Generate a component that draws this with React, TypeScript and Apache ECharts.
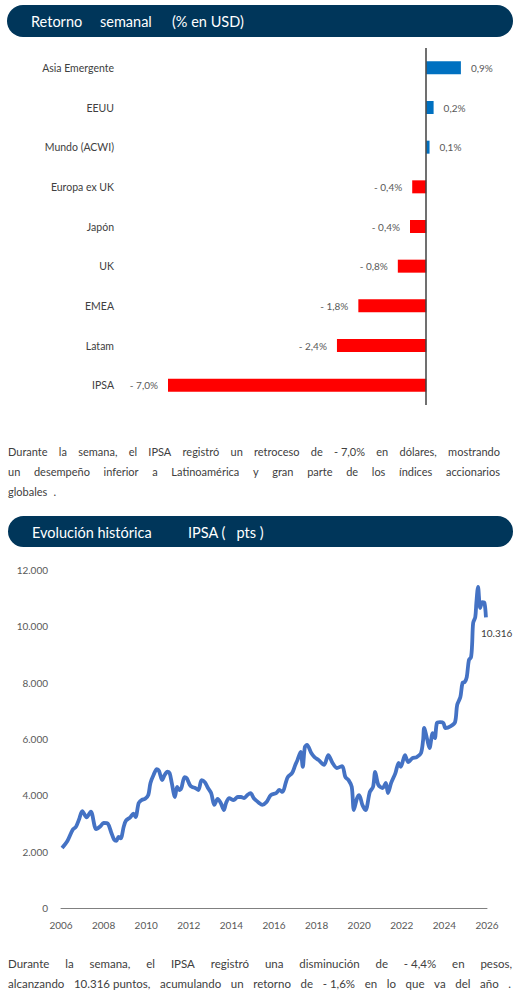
import React, { useEffect, useRef } from 'react';
import * as echarts from 'echarts';

const regions = ['Asia Emergente', 'EEUU', 'Mundo (ACWI)', 'Europa ex UK', 'Japón', 'UK', 'EMEA', 'Latam', 'IPSA'];
const weeklyReturn = [0.94, 0.2, 0.09, -0.38, -0.44, -0.77, -1.84, -2.42, -7.0];

const ipsaDates = [
  2006.05, 2006.3, 2006.55, 2006.7, 2006.85, 2007.0, 2007.2, 2007.4, 2007.65, 2007.85,
  2008.0, 2008.2, 2008.35, 2008.5, 2008.6, 2008.7, 2008.8, 2008.95, 2009.05, 2009.25,
  2009.4, 2009.5, 2009.65, 2009.8, 2009.95, 2010.1, 2010.2, 2010.35, 2010.5, 2010.6,
  2010.75, 2010.85, 2011.0, 2011.1, 2011.2, 2011.35, 2011.45, 2011.55, 2011.65, 2011.8,
  2011.9, 2012.05, 2012.15, 2012.3, 2012.45, 2012.6, 2012.75, 2012.9, 2013.05, 2013.2,
  2013.35, 2013.5, 2013.65, 2013.75, 2013.9, 2014.1, 2014.3, 2014.45, 2014.6, 2014.75,
  2014.9, 2015.05, 2015.3, 2015.45, 2015.65, 2015.85, 2016.1, 2016.25, 2016.4, 2016.55,
  2016.65, 2016.85, 2017.0, 2017.1, 2017.25, 2017.35, 2017.45, 2017.55, 2017.75, 2017.9,
  2018.1, 2018.35, 2018.55, 2018.75, 2018.95, 2019.2, 2019.35, 2019.5, 2019.65, 2019.75,
  2019.9, 2020.0, 2020.15, 2020.3, 2020.5, 2020.65, 2020.75, 2020.9, 2021.1, 2021.25,
  2021.35, 2021.5, 2021.7, 2021.85, 2021.95, 2022.15, 2022.3, 2022.5, 2022.7, 2022.9,
  2023.0, 2023.05, 2023.2, 2023.3, 2023.45, 2023.55, 2023.65, 2023.8, 2023.95, 2024.05,
  2024.3, 2024.5, 2024.6, 2024.75, 2024.85, 2024.95, 2025.05, 2025.15, 2025.25, 2025.3,
  2025.35, 2025.45, 2025.5, 2025.58, 2025.68, 2025.78, 2025.88, 2025.95,
];
const ipsaValues = [
  2130, 2380, 2780, 2880, 3150, 3440, 3220, 3420, 2800, 2900,
  3020, 2990, 2700, 2420, 2380, 2520, 2470, 2900, 3100, 3220,
  3350, 3230, 3730, 3840, 3880, 4020, 4440, 4730, 4930, 4870,
  4540, 4700, 4840, 4790, 4440, 3940, 4300, 4190, 4260, 4650,
  4610, 4370, 4300, 4260, 4190, 4540, 4470, 4260, 4080, 3660,
  3870, 3730, 3480, 3730, 3900, 3830, 3940, 3940, 3900, 4010,
  4080, 3900, 3730, 3660, 3760, 4010, 4080, 4190, 4120, 4440,
  4650, 4790, 5080, 5250, 5540, 5010, 5720, 5790, 5500, 5360,
  5250, 5080, 5430, 5150, 4970, 5040, 4650, 4540, 4300, 3480,
  3900, 4010, 3660, 3480, 4120, 4300, 4830, 4370, 4260, 4440,
  4080, 4440, 4790, 5150, 5010, 5430, 5180, 5320, 5360, 5500,
  5960, 6390, 5960, 5680, 6210, 6030, 6570, 6600, 6570, 6390,
  6460, 6600, 7210, 7490, 7990, 8020, 8200, 8800, 8910, 9340,
  10120, 10330, 10830, 11400, 10650, 10860, 10830, 10316,
];

const title1 = ['Retorno', 'semanal', '(% en USD)'];
const title2 = ['Evolución histórica', 'IPSA (   pts )'];

const para1 = [
  ['Durante', 'la', 'semana,', 'el', 'IPSA', 'registró', 'un', 'retroceso', 'de', '- 7,0%', 'en', 'dólares,', 'mostrando'],
  ['un', 'desempeño', 'inferior', 'a', 'Latinoamérica', 'y', 'gran', 'parte', 'de', 'los', 'índices', 'accionarios'],
  ['globales', '.'],
];
const para2 = [
  ['Durante', 'la', 'semana,', 'el', 'IPSA', 'registró', 'una', 'disminución', 'de', '- 4,4%', 'en', 'pesos,'],
  ['alcanzando', '10.316 puntos,', 'acumulando', 'un', 'retorno', 'de', '- 1,6%', 'en', 'lo', 'que', 'va', 'del', 'año', '.'],
];

const FONT = 'Lato, "Noto Sans", sans-serif';
const NAVY = '#00365A';
const TXT = '#404040';

const fmtThousands = (n: number) => String(Math.round(n)).replace(/\B(?=(\d{3})+(?!\d))/g, '.');
const fmtPct = (v: number) => {
  const s = Math.abs(v).toFixed(1).replace('.', ',') + '%';
  return v < 0 ? '- ' + s : s;
};

let measureCtx: CanvasRenderingContext2D | null = null;
function measure(t: string, size: number) {
  if (!measureCtx) measureCtx = document.createElement('canvas').getContext('2d');
  measureCtx!.font = `${size}px Lato`;
  return measureCtx!.measureText(t).width;
}

function lineElements(words: string[], y: number, x0: number, x1: number, size: number, justify: boolean) {
  const widths = words.map((w) => measure(w, size));
  const total = widths.reduce((a, b) => a + b, 0);
  const gap = justify && words.length > 1 ? (x1 - x0 - total) / (words.length - 1) : measure(' ', size) * 2.2;
  let x = x0;
  return words.map((w, i) => {
    const el = {
      type: 'text',
      x,
      y,
      style: { text: w, fontSize: size, fontFamily: FONT, fill: TXT, textAlign: 'left', textVerticalAlign: 'middle' },
    };
    x += widths[i] + gap;
    return el;
  });
}

export default function App() {
  const ref = useRef<HTMLDivElement>(null);
  useEffect(() => {
    if (!ref.current) return;
    const chart = echarts.init(ref.current, undefined, { renderer: 'svg' });
    const last = ipsaDates.length - 1;

    const graphic: any[] = [
      { type: 'rect', shape: { x: 7, y: 5, width: 506, height: 32, r: 16 }, style: { fill: NAVY } },
      { type: 'rect', shape: { x: 8, y: 516, width: 505, height: 31, r: 15.5 }, style: { fill: NAVY } },
      { type: 'text', x: 31, y: 21, style: { text: title1[0], fill: '#fff', fontSize: 14.5, fontFamily: FONT, textVerticalAlign: 'middle' } },
      { type: 'text', x: 100, y: 21, style: { text: title1[1], fill: '#fff', fontSize: 14.5, fontFamily: FONT, textVerticalAlign: 'middle' } },
      { type: 'text', x: 172, y: 21, style: { text: title1[2], fill: '#fff', fontSize: 14.5, fontFamily: FONT, textVerticalAlign: 'middle' } },
      { type: 'text', x: 32, y: 532, style: { text: title2[0], fill: '#fff', fontSize: 14.5, fontFamily: FONT, textVerticalAlign: 'middle' } },
      { type: 'text', x: 188, y: 532, style: { text: title2[1], fill: '#fff', fontSize: 14.5, fontFamily: FONT, textVerticalAlign: 'middle' } },
      ...lineElements(para1[0], 451, 8, 500, 11, true),
      ...lineElements(para1[1], 471, 8, 500, 11, true),
      ...lineElements(para1[2], 491, 8, 500, 11, false),
      ...lineElements(para2[0], 963, 8, 512, 11.5, true),
      ...lineElements(para2[1], 983, 8, 511, 11.5, true),
    ];

    chart.setOption({
      animation: false,
      textStyle: { fontFamily: FONT },
      grid: [
        { left: 168, width: 332, top: 48, height: 357 },
        { left: 61, width: 426, top: 570, height: 338 },
      ],
      xAxis: [
        { gridIndex: 0, type: 'value', min: -7, max: 2, show: false },
        {
          gridIndex: 1, type: 'value', min: 2006, max: 2026, interval: 2,
          axisLine: { show: true, onZero: false, lineStyle: { color: '#808080', width: 1 } },
          axisTick: { show: false }, splitLine: { show: false },
          axisLabel: { color: '#595959', fontSize: 10, margin: 12, formatter: (v: number) => String(v) },
        },
      ],
      yAxis: [
        {
          gridIndex: 0, type: 'category', data: regions, inverse: true,
          axisLine: { show: false, onZero: false }, axisTick: { show: false },
          axisLabel: { color: TXT, fontSize: 10.5, margin: 54 },
        },
        {
          gridIndex: 1, type: 'value', min: 0, max: 12000, interval: 2000,
          axisLine: { show: false }, axisTick: { show: false }, splitLine: { show: false },
          axisLabel: { color: '#595959', fontSize: 10, margin: 13, formatter: fmtThousands },
        },
      ],
      series: [
        {
          type: 'bar', xAxisIndex: 0, yAxisIndex: 0, barWidth: 13,
          data: weeklyReturn.map((v) => ({
            value: v,
            itemStyle: { color: v >= 0 ? '#0070C0' : '#FF0000' },
            label: { position: v >= 0 ? 'right' : 'left' },
          })),
          label: { show: true, distance: 10, color: '#595959', fontSize: 10, formatter: (p: any) => fmtPct(p.value) },
          markLine: {
            silent: true, symbol: 'none', label: { show: false },
            lineStyle: { color: '#404040', width: 1.5, type: 'solid' },
            data: [{ xAxis: 0 }],
          },
        },
        {
          type: 'line', xAxisIndex: 1, yAxisIndex: 1, showSymbol: false, smooth: 0.3,
          data: ipsaDates.map((d, i) => [d, ipsaValues[i]]),
          lineStyle: { color: '#4472C4', width: 3.8 },
          itemStyle: { color: '#4472C4' },
          endLabel: {
            show: true, color: TXT, fontSize: 10, offset: [-13, 16],
            formatter: () => fmtThousands(ipsaValues[last]),
          },
        },
      ],
      graphic,
    });
    return () => chart.dispose();
  }, []);
  return <div ref={ref} style={{ position: 'absolute', left: 0, top: 0, width: 520, height: 1001 }} />;
}
